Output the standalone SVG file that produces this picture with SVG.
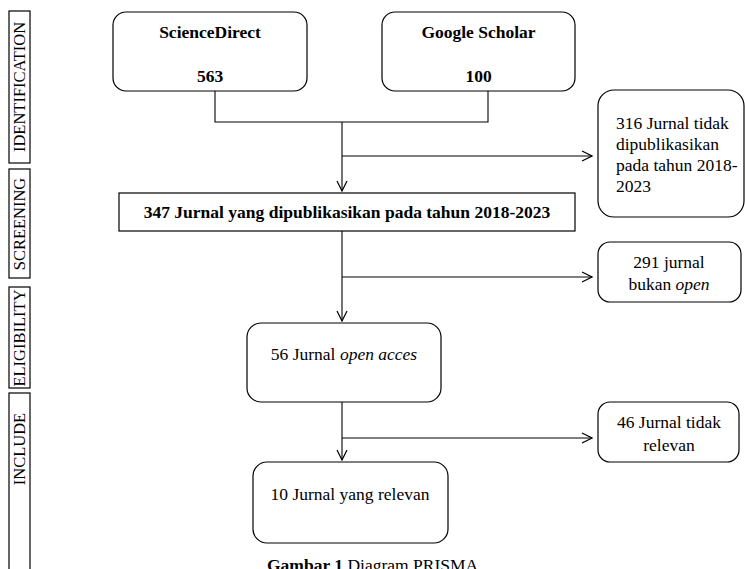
<svg xmlns="http://www.w3.org/2000/svg" width="745" height="569" viewBox="0 0 745 569">
<style>
.b{fill:#fff;stroke:#000;stroke-width:1.2}
.t{font-family:"Liberation Serif",serif;font-size:17.5px;fill:#000}
.bd{font-weight:bold}
.c{fill:none;stroke:#000;stroke-width:1.1}
.lab{font-family:"Liberation Serif",serif;font-size:16.5px;fill:#000}
</style>
<defs>
<marker id="ar" viewBox="0 0 12 12" refX="11" refY="6" markerWidth="12" markerHeight="12" markerUnits="userSpaceOnUse" orient="auto">
<path d="M1,1 L11,6 L1,11" fill="none" stroke="#000" stroke-width="1.2"/>
</marker>
</defs>
<rect width="745" height="569" fill="#fff"/>
<g id="stage-identification"><rect class="b" x="9" y="11" width="21" height="152"/><text class="lab" transform="translate(25,87) rotate(-90)" text-anchor="middle">IDENTIFICATION</text></g>
<g id="stage-screening"><rect class="b" x="9" y="169" width="21" height="109"/><text class="lab" transform="translate(25,224) rotate(-90)" text-anchor="middle">SCREENING</text></g>
<g id="stage-eligibility"><rect class="b" x="9" y="287" width="21" height="101"/><text class="lab" transform="translate(25,338) rotate(-90)" text-anchor="middle">ELIGIBILITY</text></g>
<g id="stage-include"><rect class="b" x="9" y="393" width="21" height="190"/><text class="lab" transform="translate(25,449) rotate(-90)" text-anchor="middle">INCLUDE</text></g>
<g id="n-sciencedirect"><rect class="b" x="113" y="12" width="194" height="79" rx="13"/><text class="t bd" x="210" y="38" text-anchor="middle">ScienceDirect</text><text class="t bd" x="210" y="82" text-anchor="middle">563</text></g>
<g id="n-google"><rect class="b" x="382" y="12" width="193" height="79" rx="13"/><text class="t bd" x="478.5" y="38" text-anchor="middle">Google Scholar</text><text class="t bd" x="478.5" y="82" text-anchor="middle">100</text></g>
<g id="n-316"><rect class="b" x="598" y="90" width="146" height="127" rx="16"/><text class="t" x="616" y="129">316 Jurnal tidak</text><text class="t" x="616" y="150">dipublikasikan</text><text class="t" x="616" y="171">pada tahun 2018-</text><text class="t" x="616" y="192">2023</text></g>
<g id="n-347"><rect class="b" x="119" y="193" width="456" height="38"/><text class="t bd" x="347" y="218" text-anchor="middle">347 Jurnal yang dipublikasikan pada tahun 2018-2023</text></g>
<g id="n-291"><rect class="b" x="598" y="242" width="143" height="60" rx="12"/><text class="t" x="669" y="268" text-anchor="middle">291 jurnal</text><text class="t" x="669" y="290" text-anchor="middle">bukan <tspan font-style="italic">open</tspan></text></g>
<g id="n-56"><rect class="b" x="247" y="323" width="194" height="79" rx="14"/><text class="t" x="344" y="360" text-anchor="middle">56 Jurnal <tspan font-style="italic">open acces</tspan></text></g>
<g id="n-46"><rect class="b" x="598" y="402" width="141" height="60" rx="12"/><text class="t" x="669" y="428" text-anchor="middle">46 Jurnal tidak</text><text class="t" x="669" y="451" text-anchor="middle">relevan</text></g>
<g id="n-10"><rect class="b" x="253" y="462" width="195" height="81" rx="14"/><text class="t" x="350" y="500" text-anchor="middle">10 Jurnal yang relevan</text></g>
<g id="connectors">
<path class="c" d="M215,91 V122 H488 V91"/>
<path class="c" d="M342,122 V191" marker-end="url(#ar)"/>
<path class="c" d="M342,156 H592" marker-end="url(#ar)"/>
<path class="c" d="M342,231 V321" marker-end="url(#ar)"/>
<path class="c" d="M342,277 H592" marker-end="url(#ar)"/>
<path class="c" d="M342,402 V460" marker-end="url(#ar)"/>
<path class="c" d="M342,438 H592" marker-end="url(#ar)"/>
</g>
<text class="t" x="267" y="571"><tspan font-weight="bold">Gambar 1</tspan> Diagram PRISMA</text>
</svg>
